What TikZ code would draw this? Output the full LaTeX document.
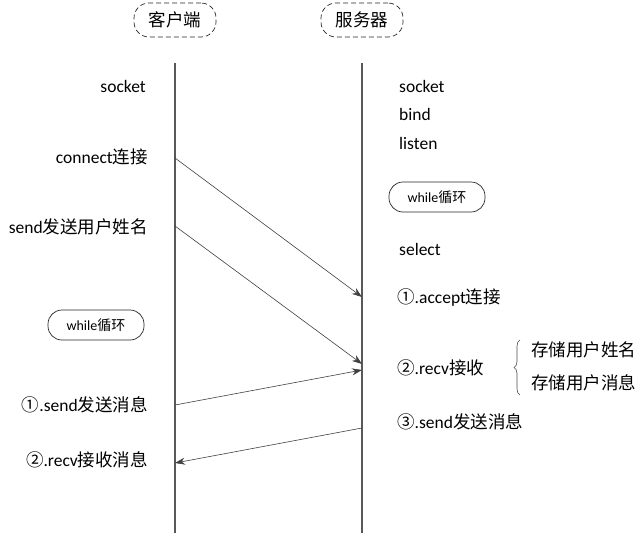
\documentclass[tikz,border=0pt]{standalone}
\usepackage{fontspec}
\setmainfont{Carlito}
\newfontfamily\cjk{Noto Sans CJK SC}
\usetikzlibrary{arrows.meta,decorations.pathreplacing}
\begin{document}
\begin{tikzpicture}[x=1pt,y=-1pt,
  txt/.style={font=\fontsize{17.5}{19}\selectfont,inner sep=0pt},
  hdr/.style={draw=black!85,dash pattern=on 5pt off 3pt,line width=0.7pt,rounded corners=15pt,minimum width=82pt,minimum height=34pt,font=\cjk\fontsize{17.5}{19}\selectfont},
  loopbox/.style={draw=black!85,line width=0.7pt,rounded corners=14pt,minimum width=96pt,minimum height=30pt,font=\fontsize{14}{16}\selectfont},
  life/.style={draw=black!65,line width=1.6pt},
  msg/.style={draw=black!75,line width=0.6pt,-{Stealth[length=10pt,width=7pt]}}]
\useasboundingbox (0,0) rectangle (644,535);
\node[hdr] (ch) at (175,20) {客户端};
\node[hdr] (sh) at (362,20) {服务器};
\coordinate (ct) at (175,63); \coordinate (cb) at (175,533);
\coordinate (st) at (362,63); \coordinate (sb) at (362,533);
\draw[life] (ct) -- (cb);
\draw[life] (st) -- (sb);
% client side
\node[txt,anchor=east] (c1) at (146,86) {socket};
\node[txt,anchor=east] (c2) at (148,157) {connect{\cjk 连接}};
\node[txt,anchor=east] (c3) at (148,227) {send{\cjk 发送用户姓名}};
\node[loopbox] (cl) at (96,325) {while{\cjk 循环}};
\node[txt,anchor=east] (c4) at (148,405) {{\cjk ①}.send{\cjk 发送消息}};
\node[txt,anchor=east] (c5) at (148,460) {{\cjk ②}.recv{\cjk 接收消息}};
% server side
\node[txt,anchor=west] (s1) at (399,86) {socket};
\node[txt,anchor=west] (s2) at (399,114) {bind};
\node[txt,anchor=west] (s3) at (399,143) {listen};
\node[loopbox] (sl) at (437,197) {while{\cjk 循环}};
\node[txt,anchor=west] (s4) at (399,249) {select};
\node[txt,anchor=west] (s5) at (397,298) {{\cjk ①}.accept{\cjk 连接}};
\node[txt,anchor=west] (s6) at (397,368) {{\cjk ②}.recv{\cjk 接收}};
\node[txt,anchor=west] (s7) at (397,422) {{\cjk ③}.send{\cjk 发送消息}};
\node[txt,anchor=west,font=\cjk\fontsize{17.5}{19}\selectfont] (s8) at (531,350) {存储用户姓名};
\node[txt,anchor=west,font=\cjk\fontsize{17.5}{19}\selectfont] (s9) at (531,383) {存储用户消息};
\coordinate (bt) at (520,340); \coordinate (bb) at (520,395);
\draw[black!70,line width=0.6pt,decorate,decoration={brace,amplitude=6pt}] (bb) -- (bt);
% messages
\coordinate (a1) at (175,158); \coordinate (a1e) at (362,297);
\coordinate (a2) at (175,226); \coordinate (a2e) at (362,364);
\coordinate (a3) at (175,405); \coordinate (a3e) at (362,370);
\coordinate (a4) at (362,428); \coordinate (a4e) at (175,463);
\draw[msg] (a1) -- (a1e);
\draw[msg] (a2) -- (a2e);
\draw[msg] (a3) -- (a3e);
\draw[msg] (a4) -- (a4e);
\end{tikzpicture}
\end{document}
